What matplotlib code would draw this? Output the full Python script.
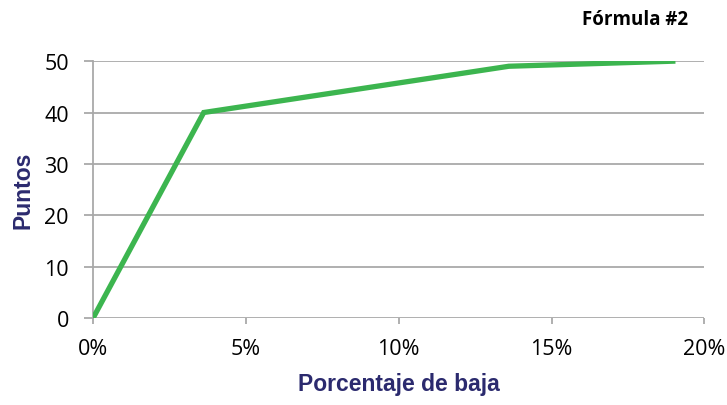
import matplotlib.pyplot as plt
from matplotlib.ticker import FuncFormatter

# curva de puntos según porcentaje de baja
baja_pct = [0, 3.62, 13.6, 19.05]
puntos = [0, 40, 49, 50]

x_ticks = [0, 5, 10, 15, 20]
y_ticks = [0, 10, 20, 30, 40, 50]

navy = "#2b2a6e"
gris = "#a9a9a9"

fig = plt.figure(figsize=(7.27, 4.06), dpi=100)
ax = fig.add_axes([0.128, 0.214, 0.841, 0.633])

ax.plot(baja_pct, puntos, color="#3cb54f", lw=3.8, solid_joinstyle="miter",
        solid_capstyle="butt", zorder=3)

ax.set_xlim(0, 20)
ax.set_ylim(0, 50)
ax.set_xticks(x_ticks)
ax.set_yticks(y_ticks)
ax.xaxis.set_major_formatter(FuncFormatter(lambda v, p: f"{v:.0f}%"))

ax.grid(axis="y", color=gris, lw=1.3)
ax.set_axisbelow(True)
for s in ["top", "right"]:
    ax.spines[s].set_visible(False)
ax.spines["bottom"].set_visible(False)
ax.spines["left"].set_color(gris)
ax.spines["left"].set_linewidth(1.3)

ax.tick_params(axis="x", direction="out", length=4.5, width=1.3, color=gris,
               labelsize=15.5, pad=10)
ax.tick_params(axis="y", direction="out", length=6.5, width=1.3, color=gris,
               labelsize=15.5, pad=11)
for lab in ax.get_xticklabels() + ax.get_yticklabels():
    lab.set_fontfamily("Open Sans")

ax.set_xlabel("Porcentaje de baja", fontsize=16.5, fontweight="bold",
              color=navy, family=["Liberation Sans", "DejaVu Sans"],
              labelpad=9)
ax.set_ylabel("Puntos", fontsize=16.5, fontweight="bold", color=navy,
              family=["Liberation Sans", "DejaVu Sans"], labelpad=7)

fig.text(0.947, 0.95, "Fórmula #2", ha="right", va="center", fontsize=13.5,
         fontweight="bold", family=["Open Sans", "DejaVu Sans"])

fig.savefig("out.png", dpi=100)
